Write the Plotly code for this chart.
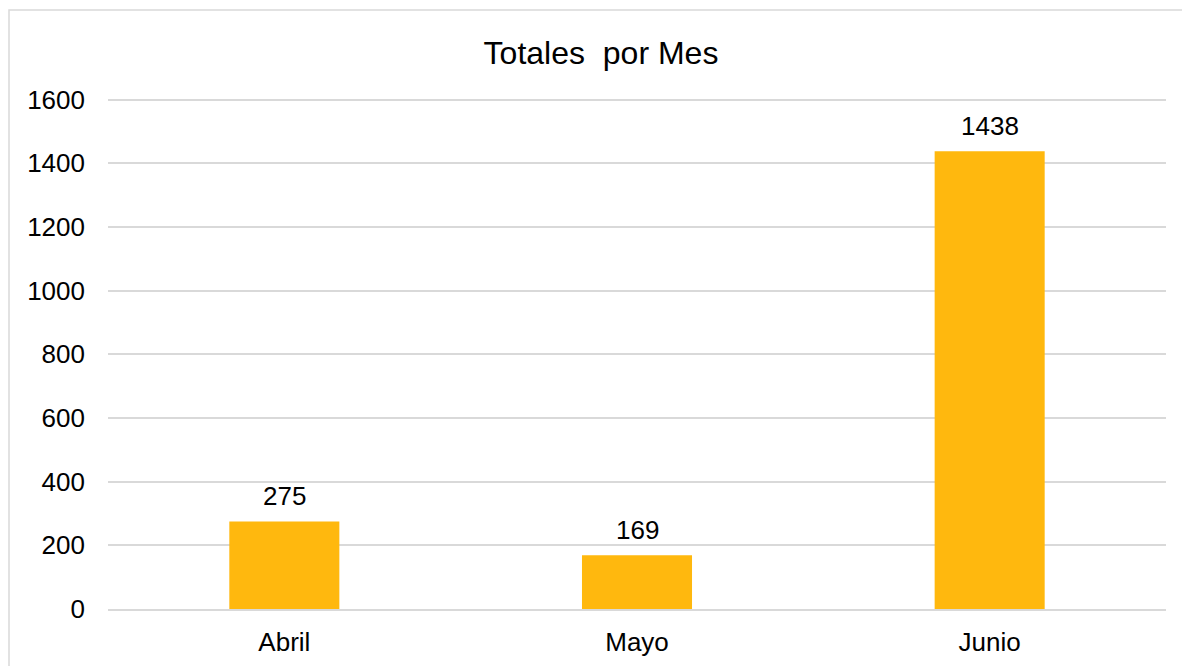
import plotly.graph_objects as go

months = ["Abril", "Mayo", "Junio"]
totals = [275, 169, 1438]
y_ticks = [0, 200, 400, 600, 800, 1000, 1200, 1400, 1600]

W, H = 1182, 666
L, R, T, B = 108, 16, 87, 57
pw, ph = W - L - R, H - T - B
y_top = 1640

fig = go.Figure(go.Bar(
    x=months, y=totals,
    marker=dict(color="#FFB80E", line=dict(width=0)),
    hoverinfo="x+y",
))

for m, v in zip(months, totals):
    fig.add_annotation(x=m, y=v, text=str(v), showarrow=False,
                       yanchor="bottom", yshift=8,
                       font=dict(family="Liberation Sans, Arial", size=26, color="#000000"))

# chart-area border
fig.add_shape(type="rect", xref="paper", yref="paper",
              x0=(9 - L) / pw, x1=(W + 15 - L) / pw,
              y0=-(H + 15 - (H - B)) / ph, y1=((H - B) - 10) / ph,
              line=dict(color="#D9D9D9", width=1.5), fillcolor="rgba(0,0,0,0)", layer="below")

fig.update_layout(
    width=W, height=H,
    margin=dict(l=L, r=R, t=T, b=B),
    paper_bgcolor="white", plot_bgcolor="white",
    bargap=0.688,
    showlegend=False,
    font=dict(family="Liberation Sans, Arial", size=26, color="#000000"),
    title=dict(text="Totales  por Mes", x=601 / W, xref="container", xanchor="center",
               y=1 - 53 / H, yref="container", yanchor="middle",
               font=dict(size=32, color="#000000")),
    xaxis=dict(showgrid=False, showline=True, linecolor="#D9D9D9", linewidth=1.5,
               ticks="", ticklabelstandoff=9, zeroline=False, automargin=False),
    yaxis=dict(range=[0, y_top], tickvals=y_ticks, showgrid=True, gridcolor="#D9D9D9",
               gridwidth=1.5, zeroline=False, showline=False, ticks="",
               ticklabelstandoff=22, automargin=False),
)

fig.write_html("out.html", config={"displayModeBar": False},
               post_script="document.body.style.margin='0';document.body.style.overflow='hidden';")
